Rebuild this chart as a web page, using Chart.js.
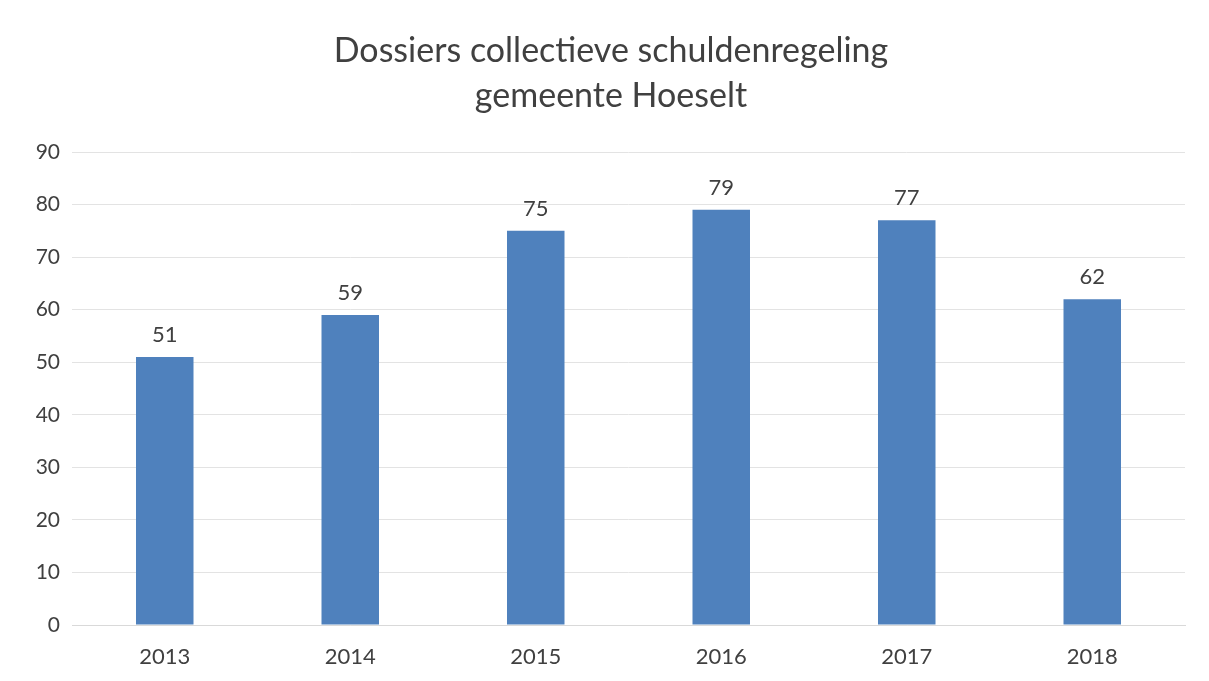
<!DOCTYPE html>
<html>
<head>
<meta charset="utf-8">
<script src="https://cdn.jsdelivr.net/npm/chart.js@4/dist/chart.umd.min.js"></script>
<style>
html,body{margin:0;padding:0;background:#fff;}
#wrap{width:1209px;height:681px;}
</style>
</head>
<body>
<div id="wrap"><canvas id="c" width="1209" height="681"></canvas></div>
<script>
const categories = ['2013', '2014', '2015', '2016', '2017', '2018'];
const dossiers = [51, 59, 75, 79, 77, 62];
const yTicks = [0, 10, 20, 30, 40, 50, 60, 70, 80, 90];
const titleLines = ['Dossiers collectieve schuldenregeling', 'gemeente Hoeselt'];

const FONT = 'Lato, "Open Sans", sans-serif';
const TEXT = '#404040';

const valueLabels = {
  id: 'valueLabels',
  afterDatasetsDraw(chart) {
    const ctx = chart.ctx;
    const meta = chart.getDatasetMeta(0);
    ctx.save();
    ctx.font = '22px ' + FONT;
    ctx.fillStyle = TEXT;
    ctx.textAlign = 'center';
    ctx.textBaseline = 'alphabetic';
    meta.data.forEach((bar, i) => {
      ctx.fillText(String(dossiers[i]), bar.x, bar.y - 15);
    });
    ctx.restore();
  }
};

const titleDraw = {
  id: 'titleDraw',
  afterDraw(chart) {
    const ctx = chart.ctx;
    ctx.save();
    ctx.font = '34px ' + FONT;
    ctx.fillStyle = TEXT;
    ctx.textAlign = 'center';
    ctx.textBaseline = 'middle';
    ctx.fillText(titleLines[0], 611, 51);
    ctx.fillText(titleLines[1], 611, 96);
    ctx.restore();
  }
};

new Chart(document.getElementById('c'), {
  type: 'bar',
  data: {
    labels: categories,
    datasets: [{
      data: dossiers,
      backgroundColor: '#4f81bd',
      borderWidth: 0,
      barPercentage: 0.31,
      categoryPercentage: 1
    }]
  },
  options: {
    responsive: false,
    animation: false,
    layout: { padding: { left: 0, right: 24, top: 152, bottom: 0 } },
    plugins: {
      legend: { display: false },
      tooltip: { enabled: false },
      title: { display: false }
    },
    scales: {
      x: {
        grid: { display: false, drawTicks: false },
        border: { display: true, color: '#d9d9d9', width: 1 },
        ticks: { color: TEXT, font: { family: FONT, size: 22 }, padding: 19 },
        afterFit(scale) { scale.height = 56; }
      },
      y: {
        min: 0,
        max: 90,
        afterBuildTicks(scale) { scale.ticks = yTicks.map(v => ({ value: v })); },
        grid: { color: '#e3e3e3', drawTicks: false },
        border: { display: false },
        ticks: { color: TEXT, font: { family: FONT, size: 21 }, padding: 12 },
        afterFit(scale) { scale.width = 72; }
      }
    }
  },
  plugins: [valueLabels, titleDraw]
});
</script>
</body>
</html>
